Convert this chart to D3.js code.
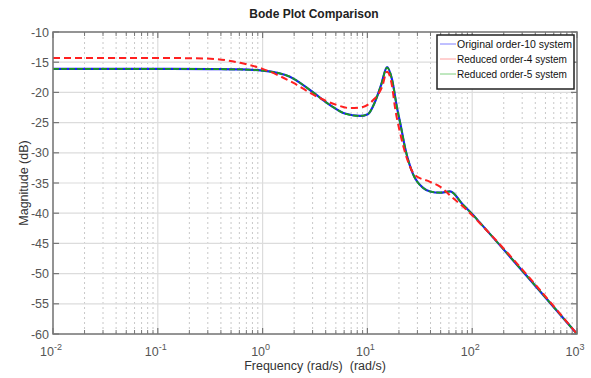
<!DOCTYPE html>
<html><head><meta charset="utf-8">
<script src="https://cdn.jsdelivr.net/npm/d3@7"></script>
<style>body{margin:0;background:#fff}svg{display:block;font-family:"Liberation Sans",Arial,sans-serif}text{white-space:pre}</style>
</head><body><svg id="c" width="591" height="378"></svg>
<script>
// Frequencies (rad/s) and magnitudes (dB)
const freqOrig = [0.01,0.1,0.315,0.61,1.0,1.82,2.83,4.4,6.1,8.5,10.1,11.8,13.5,15.4,17.2,19.1,20.9,22.9,27.2,34,39.6,49.3,61.4,81.7,102,119,1000];
const magOrig  = [-16.1,-16.1,-16.15,-16.2,-16.4,-17.4,-19.6,-22.1,-23.5,-23.9,-23.6,-21.6,-18.8,-15.8,-17.9,-22.4,-25.7,-29.2,-33.5,-35.8,-36.4,-36.6,-36.4,-38.6,-40.3,-41.6,-60];
const freqRed4 = [0.01,0.1,0.295,0.61,1.0,1.95,3.3,5.13,6.82,9.07,11.3,13.8,15.4,17.2,18.3,20.5,23.9,28.5,39.6,49.3,65.6,89.2,119,1000];
const magRed4  = [-14.3,-14.3,-14.4,-15.1,-16.1,-18.4,-20.7,-22.1,-22.6,-22.4,-21.3,-19.1,-16.6,-19.0,-22.4,-26.7,-31.0,-33.7,-34.8,-35.6,-37.5,-39.5,-41.7,-60];
const freqRed5 = freqOrig.slice();
const magRed5  = [-16.1,-16.1,-16.15,-16.2,-16.4,-17.4,-19.6,-22.1,-23.5,-23.9,-23.6,-21.6,-18.8,-15.9,-17.9,-22.4,-25.7,-29.2,-33.5,-35.8,-36.4,-36.6,-36.4,-38.6,-40.3,-41.6,-60];
const seriesNames = ["Original order-10 system","Reduced order-4 system","Reduced order-5 system"];
const yTicks = [-10,-15,-20,-25,-30,-35,-40,-45,-50,-55,-60];
const xExps = [-2,-1,0,1,2,3];

const svg = d3.select("#c");
const L=53,R=577,T=32,B=334;
const x = d3.scaleLog().domain([0.01,1000]).range([L,R]);
const y = d3.scaleLinear().domain([-60,-10]).range([B,T]);

const minors=[];
for(let e=-2;e<3;e++) for(let k=2;k<=9;k++) minors.push(k*Math.pow(10,e));
const majors = xExps.map(e=>Math.pow(10,e));

const g = svg.append("g");
g.selectAll(".gm").data(minors).join("line").attr("x1",d=>x(d)).attr("x2",d=>x(d)).attr("y1",T).attr("y2",B)
 .attr("stroke","#c8c8c8").attr("stroke-width",1).attr("stroke-dasharray","2,3");
g.selectAll(".gM").data(majors).join("line").attr("x1",d=>x(d)).attr("x2",d=>x(d)).attr("y1",T).attr("y2",B)
 .attr("stroke","#dcdcdc").attr("stroke-width",1.2);
g.selectAll(".gy").data(yTicks).join("line").attr("x1",L).attr("x2",R).attr("y1",d=>y(d)).attr("y2",d=>y(d))
 .attr("stroke","#dcdcdc").attr("stroke-width",1.2);

const tc="#777";
[B,T].forEach((yy,i)=>{
  const s = i===0?-1:1;
  g.selectAll(null).data(minors).join("line").attr("x1",d=>x(d)).attr("x2",d=>x(d)).attr("y1",yy).attr("y2",yy+s*4).attr("stroke",tc).attr("stroke-width",1);
  g.selectAll(null).data(majors).join("line").attr("x1",d=>x(d)).attr("x2",d=>x(d)).attr("y1",yy).attr("y2",yy+s*6).attr("stroke",tc).attr("stroke-width",1.2);
});
[L,R].forEach((xx,i)=>{
  const s = i===0?1:-1;
  g.selectAll(null).data(yTicks).join("line").attr("x1",xx).attr("x2",xx+s*6).attr("y1",d=>y(d)).attr("y2",d=>y(d)).attr("stroke",tc).attr("stroke-width",1.2);
});

const line = (fr)=>d3.line().x((d,i)=>x(fr[i])).y(d=>y(d)).curve(d3.curveMonotoneX);
svg.append("clipPath").attr("id","cp").append("rect").attr("x",L).attr("y",T).attr("width",R-L).attr("height",B-T);
const cg = svg.append("g").attr("clip-path","url(#cp)");
cg.append("path").attr("d",line(freqOrig)(magOrig)).attr("fill","none").attr("stroke","#1a1aff").attr("stroke-width",2.2);
cg.append("path").attr("d",line(freqRed5)(magRed5)).attr("fill","none").attr("stroke","#1a9a1a").attr("stroke-width",1.8).attr("stroke-dasharray","6,2");
cg.append("path").attr("d",line(freqRed4)(magRed4)).attr("fill","none").attr("stroke","#ff2020").attr("stroke-width",2).attr("stroke-dasharray","7,4");

svg.append("rect").attr("x",L).attr("y",T).attr("width",R-L).attr("height",B-T).attr("fill","none").attr("stroke","#777").attr("stroke-width",1.5);

svg.selectAll(".yl").data(yTicks).join("text").attr("x",L-4).attr("y",d=>y(d)+4.5).attr("text-anchor","end")
 .attr("font-size",12.5).attr("fill","#555").text(d=>d);
const xl = svg.selectAll(".xl").data(xExps).join("text").attr("x",d=>x(Math.pow(10,d))-2).attr("y",356)
 .attr("text-anchor","middle").attr("font-size",12.5).attr("fill","#555");
xl.append("tspan").text("10");
xl.append("tspan").attr("dy",-6).attr("font-size",9).text(d=>d);

svg.append("text").attr("x",314).attr("y",18).attr("text-anchor","middle").attr("font-size",12).attr("font-weight","bold").attr("fill","#222").text("Bode Plot Comparison");
svg.append("text").attr("x",315).attr("y",370).attr("text-anchor","middle").attr("font-size",12.5).attr("fill","#333").text("Frequency (rad/s)  (rad/s)");
svg.append("text").attr("transform","translate(28,183) rotate(-90)").attr("text-anchor","middle").attr("font-size",12.5).attr("fill","#333").text("Magnitude (dB)");

const lg = svg.append("g");
lg.append("rect").attr("x",437).attr("y",35).attr("width",137).attr("height",54).attr("fill","#fff").attr("stroke","#222").attr("stroke-width",1.5);
const lcol=["#8080ff","#ffa0a0","#80d080"];
const lw=[115,110,110];
seriesNames.forEach((n,i)=>{
  const yy=44+i*15;
  lg.append("line").attr("x1",440).attr("x2",456).attr("y1",yy).attr("y2",yy).attr("stroke",lcol[i]).attr("stroke-width",1);
  lg.append("text").attr("x",457).attr("y",yy+4).attr("font-size",11).attr("fill","#111")
    .attr("textLength",lw[i]).attr("lengthAdjust","spacingAndGlyphs").text(n);
});
</script></body></html>
